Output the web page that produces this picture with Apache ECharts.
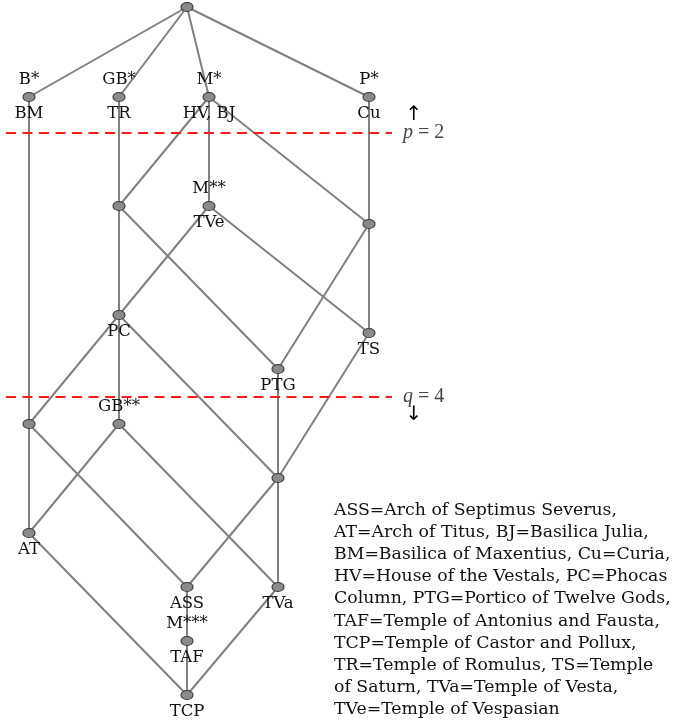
<!DOCTYPE html>
<html>
<head>
<meta charset="utf-8">
<script src="https://cdn.jsdelivr.net/npm/echarts@6/dist/echarts.min.js"></script>
<style>
  html, body { margin: 0; padding: 0; background: #fff; }
  #chart { width: 673px; height: 725px; }
</style>
</head>
<body>
<div id="chart"></div>
<script>
// ---- Data (diagram coordinates in axis units) ----
var nodeIds     = ['top','BM','TR','HV','Cu','n1','TVe','n2','PC','TS','PTG','n3','GB2','n4','AT','ASS','TVa','TAF','TCP'];
var nodeX       = [187, 29, 119, 209, 369, 119, 209, 369, 119, 369, 278, 29, 119, 278, 29, 187, 278, 187, 187];
var nodeY       = [7, 97, 97, 97, 97, 206, 206, 224, 315, 333, 369, 424, 424, 478, 533, 587, 587, 641, 695];
var lowerLabels = ['', 'BM', 'TR', 'HV, BJ', 'Cu', '', 'TVe', '', 'PC', 'TS', 'PTG', '', '', '', 'AT', 'ASS', 'TVa', 'TAF', 'TCP'];
var upperLabels = ['', 'B*', 'GB*', 'M*', 'P*', '', 'M**', '', '', '', '', '', 'GB**', '', '', '', '', 'M***', ''];
var edgeSources = ['top','top','top','top','BM','n3','TR','HV','HV','HV','Cu','n1','n1','TVe','TVe','n2','n2','PC','PC','PC','TS','PTG','n3','GB2','GB2','n4','n4','AT','ASS','TAF','TVa'];
var edgeTargets = ['BM','TR','HV','Cu','n3','AT','n1','n1','TVe','n2','n2','PC','PTG','PC','TS','PTG','TS','n3','GB2','n4','n4','n4','ASS','AT','TVa','ASS','TVa','TCP','TAF','TCP','TCP'];
var cutNames    = ['p', 'q'];
var cutValues   = [2, 4];
var cutY        = [133, 397];
var cutXRange   = [6, 392];
var cutArrows   = ['↑', '↓'];
var legendLines = [
  'ASS=Arch of Septimus Severus,',
  'AT=Arch of Titus, BJ=Basilica Julia,',
  'BM=Basilica of Maxentius, Cu=Curia,',
  'HV=House of the Vestals, PC=Phocas',
  'Column, PTG=Portico of Twelve Gods,',
  'TAF=Temple of Antonius and Fausta,',
  'TCP=Temple of Castor and Pollux,',
  'TR=Temple of Romulus, TS=Temple',
  'of Saturn, TVa=Temple of Vesta,',
  'TVe=Temple of Vespasian'
];

var SERIF = '"DejaVu Serif", "Liberation Serif", serif';
var FS = 16.5;
var LEGEND_FS = 17.3;
var TEXT_COLOR = '#111';
var ELLIPSE = 'path://M0 5A5 5 0 1 1 10 5A5 5 0 1 1 0 5Z';

function makeNodes(labels) {
  return nodeIds.map(function (id, i) {
    return {
      name: id,
      value: [nodeX[i], nodeY[i]],
      label: { show: labels[i] !== '', formatter: labels[i] }
    };
  });
}
var graphLinks = edgeSources.map(function (s, i) { return { source: s, target: edgeTargets[i] }; });

var cutSeries = cutY.map(function (y) {
  return {
    type: 'line',
    silent: true,
    symbol: 'none',
    z: 5,
    data: [[cutXRange[0], y], [cutXRange[1], y]],
    lineStyle: { color: '#ff1a1a', width: 2, type: [10, 6.5] }
  };
});

var labelStyle = {
  position: 'inside',
  fontFamily: SERIF, fontSize: FS, color: TEXT_COLOR,
  textBorderWidth: 0
};

var chart = echarts.init(document.getElementById('chart'), null, { renderer: 'canvas' });
chart.setOption({
  animation: false,
  backgroundColor: '#ffffff',
  grid: { left: 0, right: 0, top: 0, bottom: 0 },
  xAxis: { type: 'value', min: 0, max: 673, show: false },
  yAxis: { type: 'value', min: 0, max: 725, inverse: true, show: false },
  title: {
    text: legendLines.join('\n'),
    left: 334, top: 499, padding: 0,
    textStyle: { fontFamily: SERIF, fontSize: LEGEND_FS, fontWeight: 'normal', color: TEXT_COLOR, lineHeight: 22.2 }
  },
  series: cutSeries.concat([
    {
      type: 'graph',
      coordinateSystem: 'cartesian2d',
      layout: 'none',
      silent: true,
      z: 3,
      symbol: ELLIPSE,
      symbolSize: [12, 9],
      itemStyle: { color: '#8a8a8a', borderColor: '#3a3a3a', borderWidth: 1 },
      lineStyle: { color: '#808080', width: 2, opacity: 1 },
      label: Object.assign({ offset: [0, 17] }, labelStyle),
      data: makeNodes(lowerLabels),
      links: graphLinks
    },
    {
      type: 'graph',
      coordinateSystem: 'cartesian2d',
      layout: 'none',
      silent: true,
      z: 4,
      symbol: 'circle',
      symbolSize: 1,
      itemStyle: { color: 'rgba(0,0,0,0)' },
      label: Object.assign({ offset: [0, -17] }, labelStyle),
      data: makeNodes(upperLabels),
      links: []
    }
  ])
});

// Annotations for the cut lines, placed through the axis scales
var graphics = [];
cutY.forEach(function (y, i) {
  var end = chart.convertToPixel({ gridIndex: 0 }, [cutXRange[1], y]);
  graphics.push({
    type: 'text',
    x: end[0] + 11, y: end[1],
    style: {
      text: '{i|' + cutNames[i] + '} = ' + cutValues[i],
      rich: { i: { fontStyle: 'italic', fontFamily: '"Liberation Serif", serif', fontSize: 20, fill: '#444' } },
      fontFamily: '"Liberation Serif", serif', fontSize: 20, fill: '#444',
      textVerticalAlign: 'middle', verticalAlign: 'middle'
    }
  });
  graphics.push({
    type: 'text',
    x: end[0] + 22, y: end[1] + (i === 0 ? -18 : 18),
    style: {
      text: cutArrows[i],
      fontFamily: '"DejaVu Sans", sans-serif', fontSize: 20, fill: '#000',
      align: 'center', textAlign: 'center', verticalAlign: 'middle', textVerticalAlign: 'middle'
    }
  });
});
chart.setOption({ graphic: graphics });
</script>
</body>
</html>
